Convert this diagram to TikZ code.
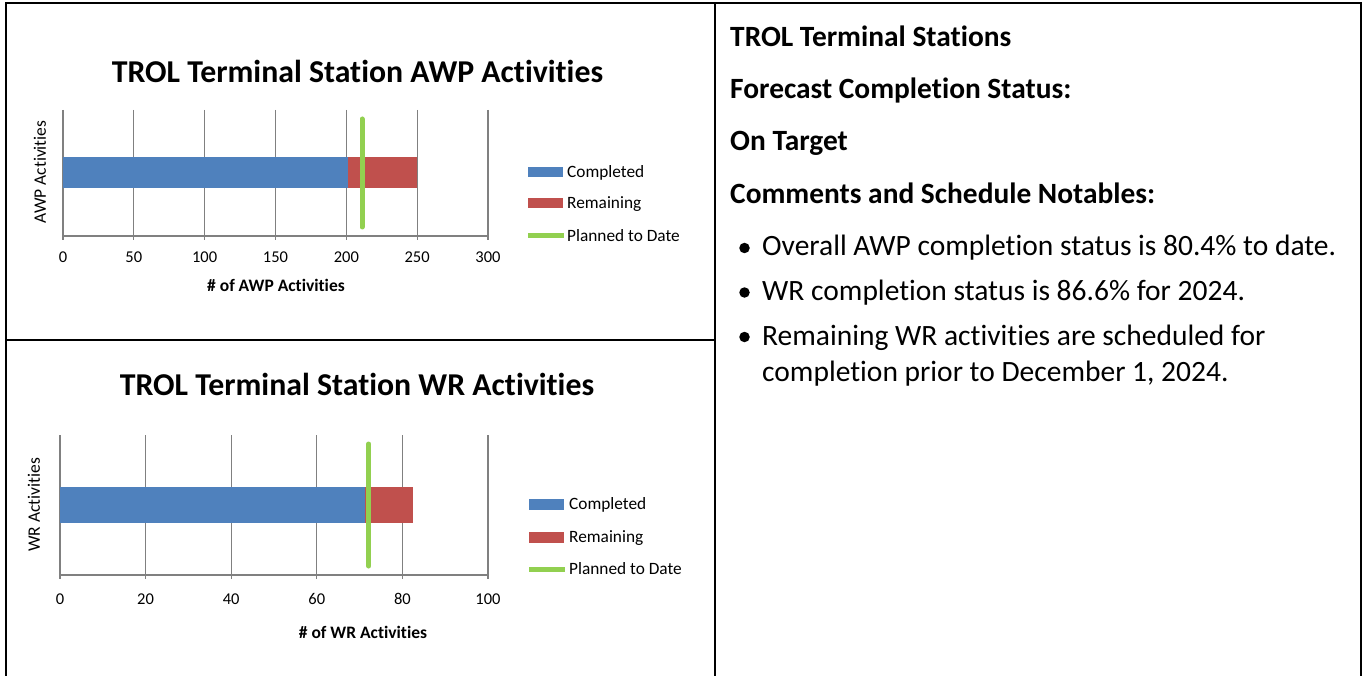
\documentclass[tikz,border=0pt]{standalone}
\usepackage{fontspec}
\setmainfont{Carlito}[Ligatures={NoCommon,TeX}]
\definecolor{cblue}{HTML}{4F81BD}
\definecolor{cred}{HTML}{C0504D}
\definecolor{cgreen}{HTML}{92D050}
\definecolor{cgrid}{HTML}{808080}
\tikzset{
  gridline/.style={draw=cgrid, line width=1.2pt},
  border/.style={draw=black, line width=2pt},
  charttitle/.style={font=\fontsize{31.8}{36}\selectfont\bfseries, inner sep=0pt},
  ticklab/.style={font=\fontsize{16.5}{19}\selectfont, inner sep=0pt},
  axlab/.style={font=\fontsize{17.5}{20}\selectfont\bfseries, inner sep=0pt},
  ylab/.style={font=\fontsize{17.5}{20}\selectfont, rotate=90, inner sep=0pt},
  legtext/.style={font=\fontsize{17.3}{20}\selectfont, anchor=base west, inner sep=0pt},
  planline/.style={draw=cgreen, line width=5pt, line cap=round},
  legplan/.style={draw=cgreen, line width=5pt},
  head/.style={font=\fontsize{29.4}{35}\selectfont\bfseries, anchor=base west, inner sep=0pt},
  body/.style={font=\fontsize{29.5}{35}\selectfont, anchor=base west, inner sep=0pt},
  bulletdot/.style={fill=black, circle, inner sep=0pt, minimum size=10.5pt},
}
\begin{document}
\begin{tikzpicture}[x=1pt,y=-1pt]
\useasboundingbox (0,0) rectangle (1362,676);
\fill[white] (0,0) rectangle (1362,676);

% ---------- Chart 1: AWP ----------
\node[charttitle] (t1) at (357.5,71) {TROL Terminal Station AWP Activities};
\foreach \v [count=\i] in {0,50,100,150,200,250,300} {
  \pgfmathsetmacro\xx{63+\v/300*425}
  \draw[gridline] (\xx,110) -- (\xx,240);
  \node[ticklab] (a1t\i) at (\xx,257) {\v};
}
\draw[gridline] (63,236) -- (488,236);
\fill[cblue] (63,157) rectangle (347.7,188);
\fill[cred] (347.7,157) rectangle (417,188);
\draw[planline] (362,119) -- (362,227);
\node[axlab] (x1) at (276,285) {\# of AWP Activities};
\node[ylab] (y1) at (40,172) {AWP Activities};
\fill[cblue] (528,167) rectangle (563,177.5);
\node[legtext] (l1a) at (567,177.5) {Completed};
\fill[cred] (528,198) rectangle (563,208.5);
\node[legtext] (l1b) at (567,208.5) {Remaining};
\draw[legplan] (528,236) -- (564,236);
\node[legtext] (l1c) at (567,241.5) {Planned to Date};

% ---------- Chart 2: WR ----------
\node[charttitle] (t2) at (357,384) {TROL Terminal Station WR Activities};
\foreach \v [count=\i] in {0,20,40,60,80,100} {
  \pgfmathsetmacro\xx{60+\v/100*428}
  \draw[gridline] (\xx,435) -- (\xx,579);
  \node[ticklab] (a2t\i) at (\xx,599) {\v};
}
\draw[gridline] (60,575) -- (488,575);
\fill[cblue] (60,487) rectangle (365.2,523);
\fill[cred] (365.2,487) rectangle (413,523);
\draw[planline] (368.7,444) -- (368.7,566);
\node[axlab] (x2) at (363,632) {\# of WR Activities};
\node[ylab] (y2) at (34,505) {WR Activities};
\fill[cblue] (529,499) rectangle (564,509.5);
\node[legtext] (l2a) at (569,509.5) {Completed};
\fill[cred] (529,532) rectangle (564,542.5);
\node[legtext] (l2b) at (569,542.5) {Remaining};
\draw[legplan] (529,569) -- (565,569);
\node[legtext] (l2c) at (569,574.5) {Planned to Date};

% ---------- Right panel ----------
\node[head] (h1) at (730,47) {TROL Terminal Stations};
\node[head] (h2) at (730,99) {Forecast Completion Status:};
\node[head] (h3) at (730,151) {On Target};
\node[head] (h4) at (730,204) {Comments and Schedule Notables:};
\node[bulletdot] (b1) at (744.5,248) {};
\node[body] (p1) at (762,256) {Overall AWP completion status is 80.4\% to date.};
\node[bulletdot] (b2) at (744.5,292.5) {};
\node[body] (p2) at (762,300.5) {WR completion status is 86.6\% for 2024.};
\node[bulletdot] (b3) at (744.5,337) {};
\node[body] (p3) at (762,345) {Remaining WR activities are scheduled for};
\node[body] (p4) at (762,381) {completion prior to December 1, 2024.};

% ---------- Table borders ----------
\draw[border] (6,676) -- (6,3) -- (1360.5,3) -- (1360.5,676);
\draw[border] (715,3) -- (715,676);
\draw[border] (6,340) -- (715,340);
\end{tikzpicture}
\end{document}
